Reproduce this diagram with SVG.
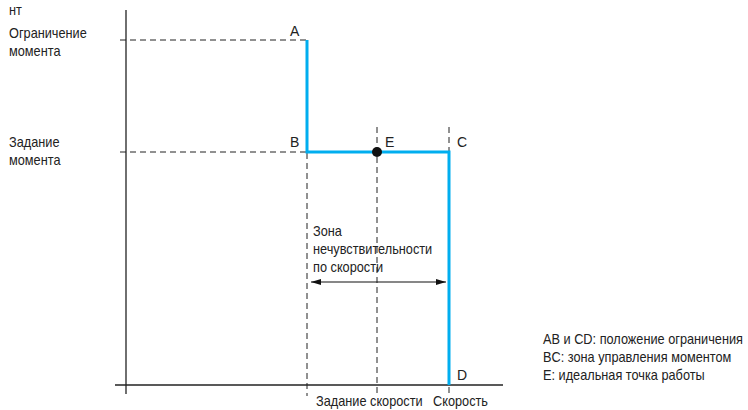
<svg xmlns="http://www.w3.org/2000/svg" width="748" height="410" viewBox="0 0 748 410">
<style>
text{font-family:"Liberation Sans",Arial,sans-serif;fill:#222;font-size:14px}
.pt{font-size:14px}
.axis{stroke:#222;stroke-width:1.3;fill:none}
.dash{stroke:#222;stroke-width:1;stroke-dasharray:6 4;fill:none}
.blue{stroke:#00aeef;stroke-width:3;fill:none}
</style>
<defs>
<marker id="ah" viewBox="0 0 10 6" refX="10" refY="3" markerWidth="10" markerHeight="6" orient="auto-start-reverse" markerUnits="userSpaceOnUse">
<path d="M0,0 L10,3 L0,6 Z" fill="#111"/>
</marker>
</defs>
<g id="axes">
<line class="axis" x1="126" y1="10" x2="126" y2="394"/>
<line class="axis" x1="115" y1="385" x2="503" y2="385"/>
</g>
<g id="guides">
<line class="dash" x1="120" y1="40" x2="306" y2="40"/>
<line class="dash" x1="120" y1="152" x2="306" y2="152"/>
<line class="dash" x1="307" y1="153" x2="307" y2="396"/>
<line class="dash" x1="377" y1="127" x2="377" y2="396"/>
<line class="dash" x1="449" y1="127" x2="449" y2="151"/>
<line class="dash" x1="449" y1="387" x2="449" y2="396"/>
</g>
<g id="connectors">
<polyline class="blue" points="307,40 307,152 449,152 449,385"/>
<line x1="311" y1="282" x2="446" y2="282" stroke="#111" stroke-width="1.2" marker-start="url(#ah)" marker-end="url(#ah)"/>
</g>
<g id="point-E"><circle cx="377" cy="152" r="5" fill="#111"/></g>
<g id="labels">
<text transform="translate(9,15) scale(0.91,1)" font-size="10.5">нт</text>
<text transform="translate(9,38) scale(0.91,1)">Ограничение</text>
<text transform="translate(9,56) scale(0.91,1)">момента</text>
<text transform="translate(9,147) scale(0.91,1)">Задание</text>
<text transform="translate(9,165) scale(0.91,1)">момента</text>
<text class="pt" x="290" y="36">A</text>
<text class="pt" x="290" y="147">B</text>
<text class="pt" x="385" y="147">E</text>
<text class="pt" x="457" y="147">C</text>
<text class="pt" x="457" y="380">D</text>
<text transform="translate(313,236) scale(0.91,1)">Зона</text>
<text transform="translate(313,254) scale(0.91,1)">нечувствительности</text>
<text transform="translate(313,272) scale(0.91,1)">по скорости</text>
<text transform="translate(316,406) scale(0.91,1)">Задание скорости</text>
<text transform="translate(433,406) scale(0.91,1)">Скорость</text>
<text transform="translate(543,344) scale(0.91,1)">AB и CD: положение ограничения</text>
<text transform="translate(543,362) scale(0.91,1)">BC: зона управления моментом</text>
<text transform="translate(543,380) scale(0.91,1)">E: идеальная точка работы</text>
</g>
</svg>
